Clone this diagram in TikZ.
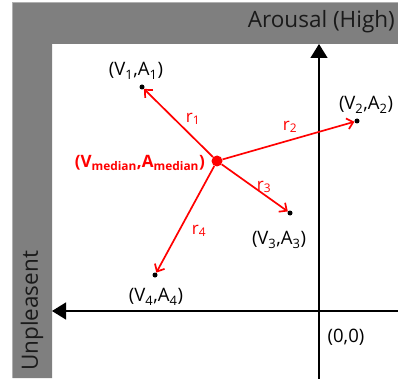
\documentclass[tikz,border=0pt]{standalone}
\usepackage{fontspec}
\setmainfont{Open Sans}
\usetikzlibrary{arrows.meta}
\definecolor{bandgray}{HTML}{7F7F7F}
\definecolor{bandedge}{HTML}{B0B0B0}
\definecolor{txtdark}{HTML}{1A1A1A}
\definecolor{myred}{HTML}{FF0000}
\begin{document}
\begin{tikzpicture}[x=1pt,y=-1pt,
  axis/.style={line width=1.3pt,draw=black,-{Triangle[length=14pt,width=17pt]}},
  rarrow/.style={line width=1.7pt,draw=myred,-{Straight Barb[length=6pt,width=11pt,line width=1.7pt]}},
  pt/.style={circle,fill=black,inner sep=0pt,minimum size=5pt},
  plabel/.style={font=\fontsize{18.5}{20}\selectfont,text=black,inner sep=0pt},
  rlabel/.style={font=\fontsize{17}{19}\selectfont,text=myred,inner sep=0pt},
  bandtext/.style={font=\fontsize{22.5}{24}\selectfont,text=txtdark,inner sep=0pt}]
\useasboundingbox (0,0) rectangle (398,379);
% gray L-band
\fill[bandgray] (12.5,2.5) -- (398,2.5) -- (398,44) -- (52,44) -- (52,378) -- (12.5,378) -- cycle;
\draw[bandedge,line width=0.8pt] (12.5,378) -- (12.5,2.5) -- (398,2.5);
% axes
\coordinate (vbot) at (319,379);
\coordinate (vtop) at (319,44);
\coordinate (hright) at (398,311);
\coordinate (hleft) at (52,311);
\draw[axis] (vbot) -- (vtop);
\draw[axis] (hright) -- (hleft);
% band labels
\node[bandtext,anchor=east] (arousal) at (395,22) {Arousal (High)};
\node[bandtext,rotate=90] (unpl) at (32,311) {Unpleasent};
% points
\node[pt] (p1) at (142,87) {};
\node[pt] (p2) at (357,121) {};
\node[pt] (p3) at (290,213) {};
\node[pt] (p4) at (155,275) {};
\node[circle,fill=myred,inner sep=0pt,minimum size=11pt] (m) at (217,161) {};
% point labels
\node[plabel] (l1) at (136,71) {(V\textsubscript{1},A\textsubscript{1})};
\node[plabel] (l2) at (366,105) {(V\textsubscript{2},A\textsubscript{2})};
\node[plabel] (l3) at (279,240) {(V\textsubscript{3},A\textsubscript{3})};
\node[plabel] (l4) at (156,297) {(V\textsubscript{4},A\textsubscript{4})};
\node[plabel] (origin) at (346,337) {(0,0)};
\node[font=\bfseries\fontsize{17}{19}\selectfont,text=myred,inner sep=0pt,anchor=east] (ml) at (205,163) {(V\textsubscript{median},A\textsubscript{median})};
% red arrows
\draw[rarrow] (m) -- (p1);
\draw[rarrow] (m) -- (p2);
\draw[rarrow] (m) -- (p3);
\draw[rarrow] (m) -- (p4);
% r labels
\node[rlabel] (r1) at (193,119) {r\textsubscript{1}};
\node[rlabel] (r2) at (290,127) {r\textsubscript{2}};
\node[rlabel] (r3) at (264,187) {r\textsubscript{3}};
\node[rlabel] (r4) at (199,231) {r\textsubscript{4}};
\end{tikzpicture}
\end{document}
